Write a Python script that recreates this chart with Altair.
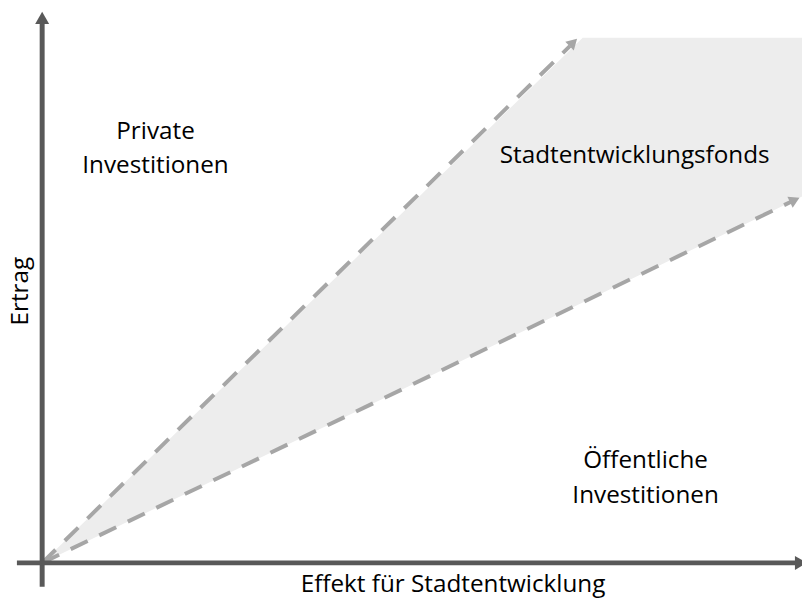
import altair as alt
import pandas as pd

# Diagram coordinates (units: effect for urban development / return), origin at the axes crossing
# Shaded corridor: lower boundary and (clipped) upper boundary
band_x = [0, 546, 767.5]
band_lo = [0, 263, 370]
band_hi = [0, 530.5, 530.5]

# Dashed boundary lines
upper_x = [0, 533]
upper_y = [0, 522]
lower_x = [0, 757]
lower_y = [0, 365]

# Arrowheads for dashed lines
dash_arrow_x = [536.5, 760.2]
dash_arrow_y = [525.6, 366.5]
dash_arrow_angle = [45.6, 64.3]

# Axes
yaxis_x = [0, 0]
yaxis_y = [-24, 545]
xaxis_x = [-25.5, 762]
xaxis_y = [0, 0]
axis_arrow_x = [0, 766.5]
axis_arrow_y = [550.5, 0]
axis_arrow_angle = [0, 90]

# Labels
label_text = ["Private\nInvestitionen", "Stadtentwicklungsfonds", "Öffentliche\nInvestitionen"]
label_x = [114.5, 598.5, 609.5]
label_y = [428.5, 403.5, 95.5]

xtitle = "Effekt für Stadtentwicklung"
ytitle = "Ertrag"

W, H = 802, 591
xs = alt.Scale(domain=[-34.5, 767.5], nice=False, zero=False)
ys = alt.Scale(domain=[-33.5, 557.5], nice=False, zero=False)
FONT = "Open Sans"
FS = 24.5

def X(f="x"):
    return alt.X(f, type="quantitative", scale=xs, axis=None)

def Y(f="y"):
    return alt.Y(f, type="quantitative", scale=ys, axis=None)

band = alt.Chart(pd.DataFrame({"x": band_x, "y": band_lo, "y2": band_hi})).mark_area(
    color="#ededed", opacity=1
).encode(x=X(), y=Y(), y2="y2:Q")

dash_df = pd.concat([
    pd.DataFrame({"x": upper_x, "y": upper_y, "s": "upper"}),
    pd.DataFrame({"x": lower_x, "y": lower_y, "s": "lower"}),
])
dashes = alt.Chart(dash_df).mark_line(
    color="#a6a6a6", strokeWidth=4, strokeDash=[19, 13]
).encode(x=X(), y=Y(), detail="s:N")

dash_arrows = alt.Chart(pd.DataFrame({"x": dash_arrow_x, "y": dash_arrow_y, "a": dash_arrow_angle})).mark_point(
    shape="triangle-up", filled=True, color="#a6a6a6", size=150, opacity=1
).encode(x=X(), y=Y(), angle=alt.Angle("a:Q", scale=None))

ax_df = pd.concat([
    pd.DataFrame({"x": yaxis_x, "y": yaxis_y, "s": "y"}),
    pd.DataFrame({"x": xaxis_x, "y": xaxis_y, "s": "x"}),
])
axes = alt.Chart(ax_df).mark_line(color="#595959", strokeWidth=5).encode(
    x=X(), y=Y(), detail="s:N"
)
axis_arrows = alt.Chart(pd.DataFrame({"x": axis_arrow_x, "y": axis_arrow_y, "a": axis_arrow_angle})).mark_point(
    shape="triangle-up", filled=True, color="#595959", size=200, opacity=1
).encode(x=X(), y=Y(), angle=alt.Angle("a:Q", scale=None))

labels = alt.Chart(pd.DataFrame({"x": label_x, "y": label_y, "t": label_text})).mark_text(
    font=FONT, fontSize=FS, color="#000000", lineBreak="\n", lineHeight=35, baseline="alphabetic", align="center"
).encode(x=X(), y=Y(), text="t:N")

xt = alt.Chart(pd.DataFrame({"x": [415], "y": [-29.5], "t": [xtitle]})).mark_text(
    font=FONT, fontSize=FS, color="#000000", baseline="alphabetic", align="center"
).encode(x=X(), y=Y(), text="t:N")

yt = alt.Chart(pd.DataFrame({"x": [-14.5], "y": [274.5], "t": [ytitle]})).mark_text(
    font=FONT, fontSize=FS, color="#000000", baseline="alphabetic", align="center", angle=270
).encode(x=X(), y=Y(), text="t:N")

chart = alt.layer(band, dashes, dash_arrows, axes, axis_arrows, labels, xt, yt).properties(
    width=W, height=H, padding=0, autosize=alt.AutoSizeParams(type="none"), background="white"
).configure_view(stroke=None)

chart.save("out.html", embed_options={"renderer": "svg", "actions": False})
